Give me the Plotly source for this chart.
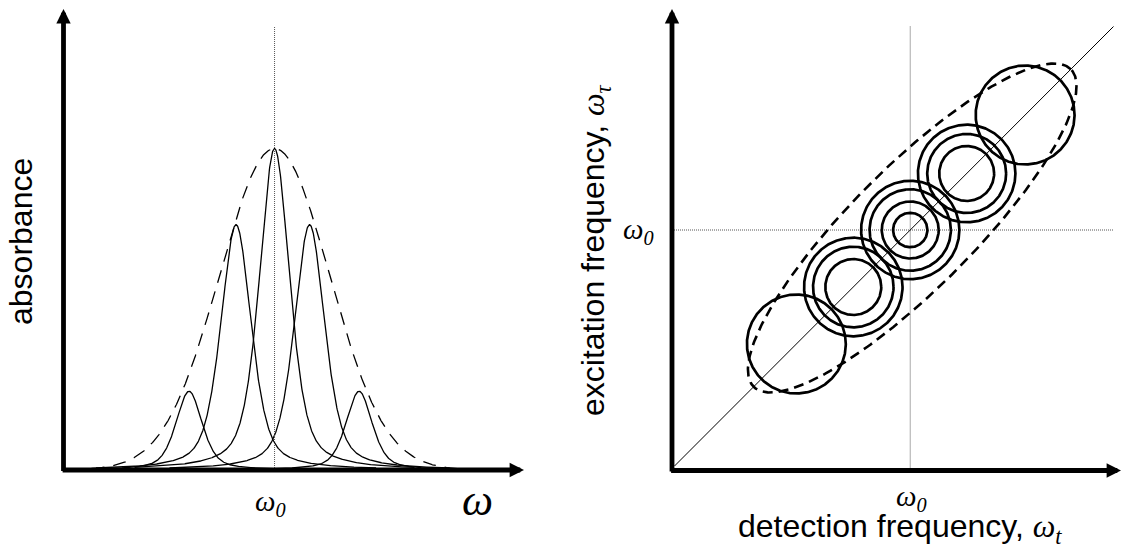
import numpy as np
import plotly.graph_objects as go

W, H = 1122, 546

# ---------------- data ----------------
# Left panel: inhomogeneously broadened absorption (frequency units, omega0 = 0)
peak_centers = [-8.55, -3.85, 0.0, 3.5, 8.45]
peak_heights = [0.245, 0.763, 1.0, 0.763, 0.245]
peak_hwhm = [1.55, 1.8, 1.8, 1.8, 1.55]
peak_lorentz_fraction = 0.5
envelope_height = 1.0
envelope_sigma = 5.5

# Right panel: 2D spectrum, sub-ensembles along the diagonal
group_offsets = [-11.4, -5.7, 0.0, 5.65, 11.5]
group_radii = [[4.95], [4.93, 4.03, 2.8], [4.92, 4.07, 2.85, 1.72], [4.88, 3.95, 2.75], [4.95]]
ellipse_center = [0.2, 0.2]
ellipse_semi_major = 22.45
ellipse_semi_minor = 6.1

# ---------------- layout geometry ----------------
def px(x):
    return x / W

def py(y):
    return 1 - y / H

L_x_range = [-21.1, 24.94]
L_y_range = [0, 1.434]
R_x_range = [-23.85, 21.1]
R_y_range = [-24.05, 22.1]

fig = go.Figure()

# ---------- left panel curves ----------
xs = np.linspace(L_x_range[0] + 0.6, 21.5, 1500)
env = envelope_height * np.exp(-xs**2 / (2 * envelope_sigma**2))
fig.add_trace(go.Scatter(x=xs, y=env, mode="lines", xaxis="x", yaxis="y",
                         line=dict(color="black", width=1.3, dash="13px,9px"),
                         hoverinfo="skip", showlegend=False))
eta = peak_lorentz_fraction
for c, h, g in zip(peak_centers, peak_heights, peak_hwhm):
    xx = np.linspace(c - 14, c + 14, 900)
    lor = 1 / (1 + ((xx - c) / g) ** 2)
    gau = np.exp(-np.log(2) * ((xx - c) / g) ** 2)
    yy = h * (eta * lor + (1 - eta) * gau)
    fig.add_trace(go.Scatter(x=xx, y=yy, mode="lines", xaxis="x", yaxis="y",
                             line=dict(color="black", width=1.3),
                             hoverinfo="skip", showlegend=False))
# dotted line at omega0
fig.add_trace(go.Scatter(x=[0, 0], y=[0, 1.38], mode="lines", xaxis="x", yaxis="y",
                         line=dict(color="#555", width=1, dash="1px,1px"),
                         hoverinfo="skip", showlegend=False))

# ---------- right panel ----------
# dotted guides
fig.add_trace(go.Scatter(x=[0, 0], y=[R_y_range[0], 20.4], mode="lines", xaxis="x2", yaxis="y2",
                         line=dict(color="#555", width=1, dash="1px,1px"),
                         hoverinfo="skip", showlegend=False))
fig.add_trace(go.Scatter(x=[R_x_range[0], 20.35], y=[0, 0], mode="lines", xaxis="x2", yaxis="y2",
                         line=dict(color="#555", width=1, dash="1px,1px"),
                         hoverinfo="skip", showlegend=False))
# diagonal
fig.add_trace(go.Scatter(x=[-23.6, 20.35], y=[-23.6, 20.35], mode="lines", xaxis="x2", yaxis="y2",
                         line=dict(color="black", width=1),
                         hoverinfo="skip", showlegend=False))
# dashed ellipse
t = np.linspace(0, 2 * np.pi, 400)
u = ellipse_semi_major * np.cos(t)
v = ellipse_semi_minor * np.sin(t)
ex = ellipse_center[0] + (u - v) / np.sqrt(2)
ey = ellipse_center[1] + (u + v) / np.sqrt(2)
fig.add_trace(go.Scatter(x=ex, y=ey, mode="lines", xaxis="x2", yaxis="y2",
                         line=dict(color="black", width=2.6, dash="10px,6px"),
                         hoverinfo="skip", showlegend=False))
# circles
for off, radii in zip(group_offsets, group_radii):
    for r in radii:
        cx = off + r * np.cos(t)
        cy = off + r * np.sin(t)
        fig.add_trace(go.Scatter(x=cx, y=cy, mode="lines", xaxis="x2", yaxis="y2",
                                 line=dict(color="black", width=2.7),
                                 hoverinfo="skip", showlegend=False))

# ---------- axes (arrows) ----------
arrow_common = dict(showarrow=True, arrowhead=2, arrowwidth=4.8, arrowsize=0.6,
                    arrowcolor="black", text="", standoff=0, startstandoff=0)
# left y axis
fig.add_annotation(x=L_x_range[0], y=L_y_range[1], ax=L_x_range[0], ay=-0.008,
                   xref="x", yref="y", axref="x", ayref="y", **arrow_common)
# left x axis
fig.add_annotation(x=L_x_range[1], y=0, ax=L_x_range[0] - 0.24, ay=0,
                   xref="x", yref="y", axref="x", ayref="y", **arrow_common)
# right y axis
fig.add_annotation(x=R_x_range[0], y=R_y_range[1], ax=R_x_range[0], ay=R_y_range[0] - 0.24,
                   xref="x2", yref="y2", axref="x2", ayref="y2", **arrow_common)
# right x axis
fig.add_annotation(x=R_x_range[1], y=R_y_range[0], ax=R_x_range[0] - 0.24, ay=R_y_range[0],
                   xref="x2", yref="y2", axref="x2", ayref="y2", **arrow_common)

# ---------- text ----------
sans = "Liberation Sans, Arial, sans-serif"
serif = "Liberation Serif, Times New Roman, serif"
def txt(x, y, text, size, family, angle=0):
    fig.add_annotation(x=px(x), y=py(y), xref="paper", yref="paper", text=text,
                       showarrow=False, textangle=angle, xanchor="center", yanchor="middle",
                       font=dict(size=size, family=family, color="black"))

txt(21, 242, "absorbance", 32, sans, -90)
txt(270, 503, "<i>ω<sub>0</sub></i>", 29, serif)
txt(477, 500, "<i>ω</i>", 44, serif)
txt(596, 250, "excitation frequency, <span style='font-family:Liberation Serif'><i>ω<sub>τ</sub></i></span>", 32, sans, -90)
txt(638, 231, "<i>ω<sub>0</sub></i>", 29, serif)
txt(911, 498, "<i>ω<sub>0</sub></i>", 29, serif)
txt(900, 528, "detection frequency, <span style='font-family:Liberation Serif'><i>ω<sub>t</sub></i></span>", 32, sans)

ax_common = dict(visible=False, showgrid=False, zeroline=False, fixedrange=True)
fig.update_layout(
    width=W, height=H, margin=dict(l=0, r=0, t=0, b=0),
    paper_bgcolor="white", plot_bgcolor="rgba(0,0,0,0)", showlegend=False,
    xaxis=dict(domain=[px(63.5), px(524)], range=L_x_range, **ax_common),
    yaxis=dict(domain=[py(470), py(9)], range=L_y_range, **ax_common),
    xaxis2=dict(domain=[px(672), px(1121)], range=R_x_range, anchor="y2", **ax_common),
    yaxis2=dict(domain=[py(470.5), py(9)], range=R_y_range, anchor="x2", **ax_common),
)

fig.write_html("out.html")
